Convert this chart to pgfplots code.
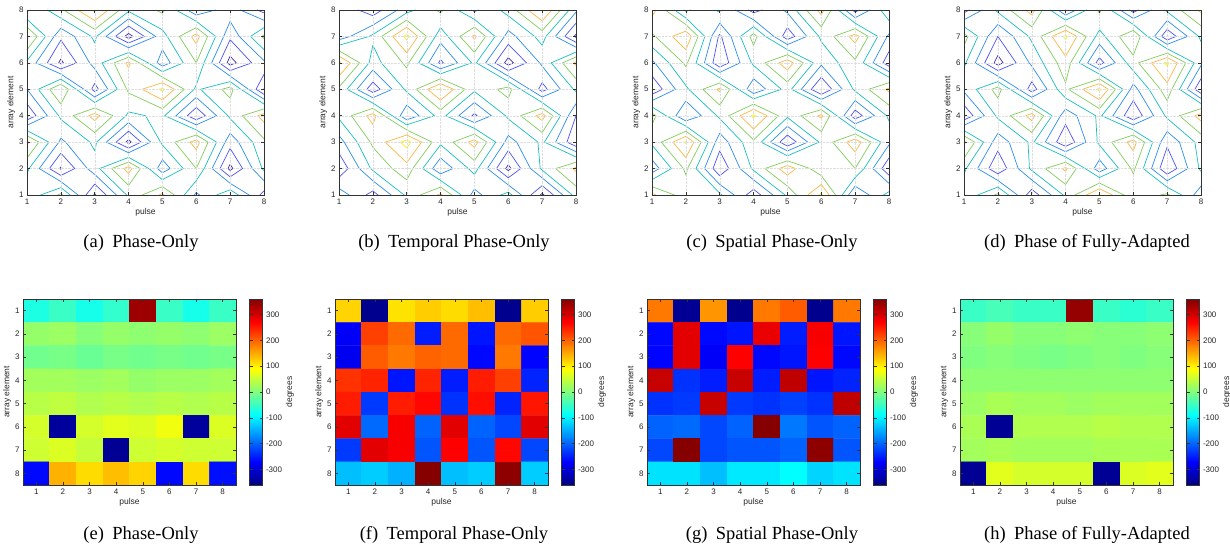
\documentclass[border=0pt]{standalone}
\usepackage{fontspec}
\setmainfont{Liberation Serif}
\setsansfont{Liberation Sans}
\usepackage{pgfplots}
\usepackage{pgfplotstable}
\pgfplotsset{compat=1.18}

\definecolor{cP}{rgb}{0.26,0.16,0.70}
\definecolor{cV}{rgb}{0.30,0.32,0.94}
\definecolor{cB}{rgb}{0.17,0.55,0.93}
\definecolor{cT}{rgb}{0.10,0.74,0.74}
\definecolor{cG}{rgb}{0.50,0.80,0.35}
\definecolor{cO}{rgb}{0.99,0.72,0.25}
\definecolor{cY}{rgb}{0.98,0.95,0.10}

% ---------- grid values (rows y=8 ... y=1, x=1..8) ----------
\newcommand\loadgrid[2]{%
  \foreach \v [count=\k from 0] in {#2} {%
    \pgfmathtruncatemacro\xx{mod(\k,8)+1}%
    \pgfmathtruncatemacro\yy{8-floor(\k/8)}%
    \expandafter\xdef\csname zz#1@\xx @\yy\endcsname{\v}%
  }%
}
\newcommand\cellbody[2]{%
  \pgfmathtruncatemacro\ip{\i+1}%
  \pgfmathtruncatemacro\jp{\j+1}%
  \edef\za{\csname zz#1@\i @\j\endcsname}%
  \edef\zb{\csname zz#1@\ip @\j\endcsname}%
  \edef\zc{\csname zz#1@\ip @\jp\endcsname}%
  \edef\zd{\csname zz#1@\i @\jp\endcsname}%
  \pgfmathtruncatemacro\cA{((\za)-(#2))*((\zb)-(#2))<0}%
  \pgfmathtruncatemacro\cB{((\zb)-(#2))*((\zc)-(#2))<0}%
  \pgfmathtruncatemacro\cC{((\zd)-(#2))*((\zc)-(#2))<0}%
  \pgfmathtruncatemacro\cD{((\za)-(#2))*((\zd)-(#2))<0}%
  \pgfmathtruncatemacro\np{\cA+\cB+\cC+\cD}%
  \ifnum\np>0
    \ifnum\cA=1 \pgfmathsetmacro\tcr{\i+((#2)-(\za))/((\zb)-(\za))}\edef\pA{(\tcr,\j)}\fi
    \ifnum\cB=1 \pgfmathsetmacro\tcr{\j+((#2)-(\zb))/((\zc)-(\zb))}\edef\pB{(\ip,\tcr)}\fi
    \ifnum\cC=1 \pgfmathsetmacro\tcr{\i+((#2)-(\zd))/((\zc)-(\zd))}\edef\pC{(\tcr,\jp)}\fi
    \ifnum\cD=1 \pgfmathsetmacro\tcr{\j+((#2)-(\za))/((\zd)-(\za))}\edef\pD{(\i,\tcr)}\fi
    \def\pts{}%
    \ifnum\np=2
      \edef\pts{\ifnum\cA=1 \pA\fi\ifnum\cB=1 \pB\fi\ifnum\cC=1 \pC\fi\ifnum\cD=1 \pD\fi(nan,nan)}%
    \else\ifnum\np=4
      \pgfmathtruncatemacro\sd{((\za)-(#2))*(((\za)+(\zb)+(\zc)+(\zd))/4-(#2))>0}%
      \ifnum\sd=1 \edef\pts{\pA\pB(nan,nan)\pC\pD(nan,nan)}\else\edef\pts{\pA\pD(nan,nan)\pB\pC(nan,nan)}\fi
    \fi\fi
    \xdef\seglist{\seglist\pts}%
  \fi
}
\newcommand\contourlevel[3]{%
  \gdef\seglist{}%
  \foreach \i in {1,...,7}{\foreach \j in {1,...,7}{\cellbody{#1}{#2}}}%
  \expandafter\xdef\csname seg#1#3\endcsname{\seglist}%
}
\newcommand\mkcontours[1]{%
  \contourlevel{#1}{-0.7499}{a}\contourlevel{#1}{-0.4999}{b}%
  \contourlevel{#1}{-0.2499}{c}\contourlevel{#1}{0.0001}{d}%
  \contourlevel{#1}{0.2501}{e}\contourlevel{#1}{0.5001}{f}%
  \contourlevel{#1}{0.7501}{g}%
}
\newcommand\drawlev[3]{%
  \expandafter\ifx\csname seg#1#2\endcsname\empty\else
    \edef\tmp{\noexpand\addplot[draw=#3, line width=0.7pt, line cap=round, line join=round] coordinates {\csname seg#1#2\endcsname};}\tmp
  \fi}
\newcommand\drawcontours[1]{%
  \drawlev{#1}{a}{cP}\drawlev{#1}{b}{cV}\drawlev{#1}{c}{cB}\drawlev{#1}{d}{cT}%
  \drawlev{#1}{e}{cG}\drawlev{#1}{f}{cO}\drawlev{#1}{g}{cY}}

% (a) Phase-Only
\loadgrid{A}{-0.3, 0.2, 0.8, 0.05, 0.3, -0.45, -0.1, -0.6,
 0.55, -0.45, 0.05, -0.85, -0.1, 0.6, -0.45, 0.3,
 -0.05, -0.8, -0.15, 0.55, -0.4, 0.25, -0.85, -0.3,
 -0.25, 0.5, -0.6, 0.3, 0.8, -0.05, 0.35, -0.76,
 -0.7, 0.05, 0.6, -0.05, 0.05, -0.7, 0.05, 0.6,
 0.55, -0.3, 0.05, -0.82, 0.05, 0.6, -0.4, 0.2,
 0.05, -0.78, -0.1, 0.6, -0.4, 0.25, -0.82, 0.05,
 -0.2, 0.3, -0.78, 0.05, 0.55, -0.3, 0.2, -0.6}
% (b) Temporal Phase-Only
\loadgrid{B}{-0.3, -0.65, -0.1, 0.3, -0.3, 0.1, 0.78, -0.2,
 -0.4, 0.05, 0.82, -0.15, 0.55, -0.35, 0.1, -0.8,
 0.8, -0.1, 0.3, -0.55, 0.05, -0.85, -0.2, 0.55,
 0.2, -0.65, 0.05, 0.78, 0.05, 0.35, -0.6, 0.05,
 0.05, 0.6, -0.45, 0.1, -0.55, 0.05, 0.6, -0.5,
 -0.35, 0.3, 0.85, 0.05, 0.6, -0.35, 0.05, -0.7,
 -0.7, 0.05, 0.4, -0.45, 0.1, -0.82, 0.05, 0.55,
 -0.1, -0.6, 0.05, 0.55, -0.35, 0.1, -0.8, 0.1}
% (c) Spatial Phase-Only
\loadgrid{C}{0.6, -0.3, 0.05, -0.6, -0.2, 0.6, -0.6, 0.2,
 0.2, 0.7, -0.55, 0.35, -0.65, 0.05, 0.6, -0.3,
 -0.3, 0.3, -0.7, 0.05, 0.65, -0.2, 0.2, -0.65,
 -0.7, -0.05, 0.55, -0.45, 0.1, -0.75, 0.05, 0.55,
 0.35, -0.5, 0.05, 0.8, 0.05, 0.55, -0.65, 0.05,
 0.05, 0.78, -0.4, 0.2, -0.7, 0.05, 0.65, -0.2,
 -0.4, 0.3, -0.7, 0.05, 0.65, 0.05, 0.25, -0.7,
 0.55, 0.1, 0.05, -0.65, 0.05, 0.8, -0.5, 0.1}
% (d) Phase of Fully-Adapted
\loadgrid{D}{-0.6, 0.05, 0.6, -0.5, 0.3, -0.6, 0.05, 0.55,
 0.35, -0.5, 0.05, 0.8, -0.1, 0.5, -0.7, 0.05,
 0.05, -0.85, -0.2, 0.4, -0.6, 0.15, 0.8, -0.2,
 -0.2, 0.35, -0.62, 0.2, 0.8, -0.35, 0.4, -0.7,
 -0.7, 0.05, 0.6, -0.4, 0.05, -0.7, 0.05, 0.6,
 0.55, -0.4, 0.05, -0.7, 0.05, 0.6, -0.45, 0.1,
 0.05, -0.7, 0.05, 0.55, -0.4, 0.3, -0.72, 0.05,
 -0.2, 0.3, -0.65, 0.05, 0.78, 0.05, 0.3, -0.4}
\mkcontours{A}\mkcontours{B}\mkcontours{C}\mkcontours{D}

% ---------- phase maps (degrees), x = pulse, y = array element ----------
\pgfplotstableread[row sep=\\]{x y c\\
1 1 -70\\ 2 1 -50\\ 3 1 -75\\ 4 1 -55\\ 5 1 340\\ 6 1 -50\\ 7 1 -75\\ 8 1 -50\\
1 2 15\\ 2 2 20\\ 3 2 5\\ 4 2 15\\ 5 2 10\\ 6 2 15\\ 7 2 10\\ 8 2 20\\
1 3 -10\\ 2 3 -5\\ 3 3 -15\\ 4 3 -5\\ 5 3 -10\\ 6 3 -5\\ 7 3 -10\\ 8 3 -5\\
1 4 25\\ 2 4 25\\ 3 4 20\\ 4 4 25\\ 5 4 15\\ 6 4 20\\ 7 4 20\\ 8 4 25\\
1 5 40\\ 2 5 45\\ 3 5 35\\ 4 5 40\\ 5 5 35\\ 6 5 40\\ 7 5 35\\ 8 5 40\\
1 6 60\\ 2 6 -340\\ 3 6 60\\ 4 6 70\\ 5 6 65\\ 6 6 80\\ 7 6 -340\\ 8 6 65\\
1 7 55\\ 2 7 65\\ 3 7 50\\ 4 7 -345\\ 5 7 55\\ 6 7 60\\ 7 7 55\\ 8 7 55\\
1 8 -265\\ 2 8 145\\ 3 8 115\\ 4 8 135\\ 5 8 120\\ 6 8 -265\\ 7 8 115\\ 8 8 -260\\
}\tabE
\pgfplotstableread[row sep=\\]{x y c\\
1 1 120\\ 2 1 -350\\ 3 1 110\\ 4 1 125\\ 5 1 115\\ 6 1 135\\ 7 1 -350\\ 8 1 125\\
1 2 -275\\ 2 2 225\\ 3 2 195\\ 4 2 -250\\ 5 2 195\\ 6 2 -255\\ 7 2 195\\ 8 2 210\\
1 3 -280\\ 2 3 205\\ 3 3 185\\ 4 3 200\\ 5 3 195\\ 6 3 -265\\ 7 3 185\\ 8 3 -268\\
1 4 235\\ 2 4 245\\ 3 4 -255\\ 4 4 245\\ 5 4 -250\\ 6 4 250\\ 7 4 225\\ 8 4 -245\\
1 5 250\\ 2 5 -230\\ 3 5 250\\ 4 5 265\\ 5 5 -235\\ 6 5 260\\ 7 5 -245\\ 8 5 255\\
1 6 290\\ 2 6 -195\\ 3 6 275\\ 4 6 -200\\ 5 6 290\\ 6 6 -200\\ 7 6 -220\\ 8 6 290\\
1 7 -230\\ 2 7 290\\ 3 7 275\\ 4 7 -210\\ 5 7 270\\ 6 7 -210\\ 7 7 265\\ 8 7 -220\\
1 8 -135\\ 2 8 -125\\ 3 8 -145\\ 4 8 355\\ 5 8 -135\\ 6 8 -125\\ 7 8 350\\ 8 8 -125\\
}\tabF
\pgfplotstableread[row sep=\\]{x y c\\
1 1 185\\ 2 1 -345\\ 3 1 165\\ 4 1 -350\\ 5 1 185\\ 6 1 205\\ 7 1 -350\\ 8 1 185\\
1 2 -265\\ 2 2 290\\ 3 2 -265\\ 4 2 -255\\ 5 2 285\\ 6 2 -250\\ 7 2 275\\ 8 2 -255\\
1 3 -268\\ 2 3 290\\ 3 3 -275\\ 4 3 270\\ 5 3 -265\\ 6 3 -255\\ 7 3 270\\ 8 3 -265\\
1 4 310\\ 2 4 -235\\ 3 4 -250\\ 4 4 310\\ 5 4 -250\\ 6 4 315\\ 7 4 -255\\ 8 4 -245\\
1 5 -235\\ 2 5 -230\\ 3 5 310\\ 4 5 -230\\ 5 5 -235\\ 6 5 -225\\ 7 5 -235\\ 8 5 315\\
1 6 -200\\ 2 6 -195\\ 3 6 -220\\ 4 6 -200\\ 5 6 355\\ 6 6 -185\\ 7 6 -210\\ 8 6 -200\\
1 7 -220\\ 2 7 355\\ 3 7 -220\\ 4 7 -210\\ 5 7 -210\\ 6 7 -200\\ 7 7 350\\ 8 7 -210\\
1 8 -110\\ 2 8 -110\\ 3 8 -135\\ 4 8 -105\\ 5 8 -105\\ 6 8 -90\\ 7 8 -120\\ 8 8 -110\\
}\tabG
\pgfplotstableread[row sep=\\]{x y c\\
1 1 -50\\ 2 1 -40\\ 3 1 -50\\ 4 1 -50\\ 5 1 345\\ 6 1 -50\\ 7 1 -60\\ 8 1 -50\\
1 2 5\\ 2 2 15\\ 3 2 5\\ 4 2 5\\ 5 2 10\\ 6 2 5\\ 7 2 5\\ 8 2 10\\
1 3 0\\ 2 3 5\\ 3 3 0\\ 4 3 -5\\ 5 3 0\\ 6 3 5\\ 7 3 0\\ 8 3 5\\
1 4 10\\ 2 4 10\\ 3 4 10\\ 4 4 10\\ 5 4 10\\ 6 4 10\\ 7 4 10\\ 8 4 10\\
1 5 20\\ 2 5 30\\ 3 5 25\\ 4 5 25\\ 5 5 20\\ 6 5 25\\ 7 5 25\\ 8 5 25\\
1 6 30\\ 2 6 -345\\ 3 6 35\\ 4 6 35\\ 5 6 35\\ 6 6 40\\ 7 6 35\\ 8 6 35\\
1 7 25\\ 2 7 30\\ 3 7 25\\ 4 7 25\\ 5 7 25\\ 6 7 30\\ 7 7 30\\ 8 7 30\\
1 8 -345\\ 2 8 70\\ 3 8 60\\ 4 8 60\\ 5 8 60\\ 6 8 -345\\ 7 8 65\\ 8 8 70\\
}\tabH

\pgfplotsset{
  common/.style={
    /pgf/number format/assume math mode=true,
    tick label style={font=\sffamily\fontsize{8}{9}\selectfont, text=black!85},
    label style={font=\sffamily\fontsize{8.5}{10}\selectfont, text=black!85},
    axis line style={black!80}, tick style={black!80, line width=0.5pt},
    major tick length=3pt, tick align=inside,
  },
  topax/.style={common, scale only axis, width=237pt, height=185pt,
    xmin=1, xmax=8, ymin=1, ymax=8, xtick={1,...,8}, ytick={1,...,8},
    grid=major, grid style={black!13, densely dotted, line width=0.4pt},
    xlabel={pulse}, ylabel={array element}, unbounded coords=jump, axis on top,
    xlabel style={yshift=3pt}, ylabel style={yshift=-3pt}},
  heatax/.style={common, scale only axis, width=213pt, height=186pt,
    xmin=0.5, xmax=8.5, ymin=0.5, ymax=8.5, y dir=reverse,
    xtick={1,...,8}, ytick={1,...,8}, xlabel={pulse}, ylabel={array element},
    xlabel style={yshift=3pt}, ylabel style={yshift=-3pt},
    axis on top, colormap/jet, point meta min=-360, point meta max=360,
    colorbar, colorbar style={common, width=13pt, at={(parent axis.north east)},
      anchor=north west, xshift=5pt, ytick={-300,-200,...,300},
      ylabel={degrees}, ylabel style={yshift=3pt}}},
}
\newcommand\heat[1]{\addplot[matrix plot*, mesh/cols=8, point meta=explicit] table[x=x, y=y, meta=c] {#1};}

\begin{document}
\begin{tikzpicture}[x=1pt,y=1pt]
\useasboundingbox (0,0) rectangle (1230,551);
\begin{axis}[topax, at={(27pt,541pt)}, anchor=north west]\drawcontours{A}\end{axis}
\begin{axis}[topax, at={(339pt,541pt)}, anchor=north west]\drawcontours{B}\end{axis}
\begin{axis}[topax, at={(652pt,541pt)}, anchor=north west]\drawcontours{C}\end{axis}
\begin{axis}[topax, at={(964pt,541pt)}, anchor=north west]\drawcontours{D}\end{axis}

\begin{axis}[heatax, at={(23pt,252pt)}, anchor=north west]\heat{\tabE}\end{axis}
\begin{axis}[heatax, at={(335pt,252pt)}, anchor=north west]\heat{\tabF}\end{axis}
\begin{axis}[heatax, at={(647pt,252pt)}, anchor=north west]\heat{\tabG}\end{axis}
\begin{axis}[heatax, at={(960pt,252pt)}, anchor=north west]\heat{\tabH}\end{axis}

\begin{scope}[font=\fontsize{18.5}{20}\selectfont]
\node at (141,308) {(a)\hspace{0.45em}Phase-Only};
\node at (454,308) {(b)\hspace{0.45em}Temporal Phase-Only};
\node at (772,308) {(c)\hspace{0.45em}Spatial Phase-Only};
\node at (1087,308) {(d)\hspace{0.45em}Phase of Fully-Adapted};
\node at (141,16) {(e)\hspace{0.45em}Phase-Only};
\node at (454,16) {(f)\hspace{0.45em}Temporal Phase-Only};
\node at (772,16) {(g)\hspace{0.45em}Spatial Phase-Only};
\node at (1087,16) {(h)\hspace{0.45em}Phase of Fully-Adapted};
\end{scope}
\end{tikzpicture}
\end{document}
